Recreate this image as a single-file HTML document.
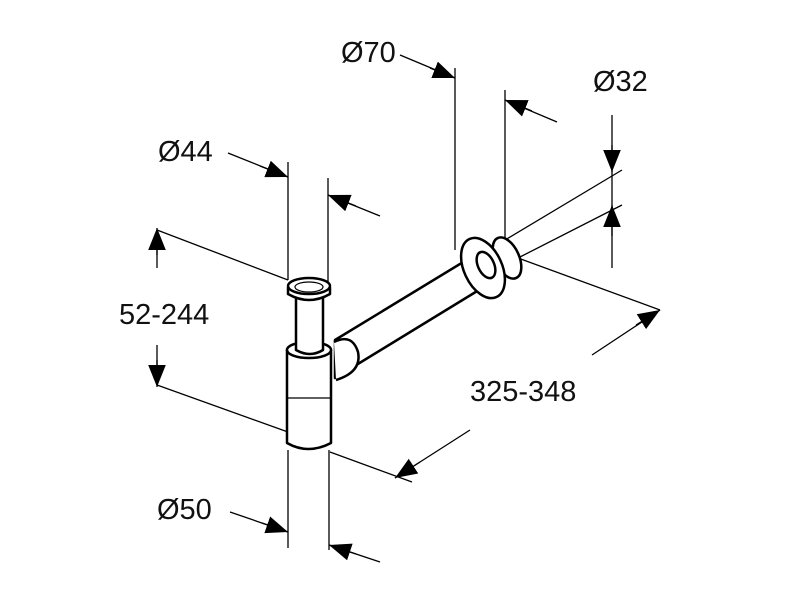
<!DOCTYPE html>
<html><head><style>body{margin:0;background:#fff}svg{display:block}text{font-family:"Liberation Sans",sans-serif;font-size:29px;fill:#111}</style></head>
<body>
<svg width="800" height="600" viewBox="0 0 800 600" xmlns="http://www.w3.org/2000/svg">
<defs>
<marker id="a" viewBox="0 0 10 10" refX="10" refY="5" markerWidth="22" markerHeight="22" markerUnits="userSpaceOnUse" orient="auto"><path d="M0,1 L10,5 L0,9Z" fill="#000"/></marker>
</defs>
<g stroke="#000" stroke-width="1.3" fill="none">
<line x1="288" y1="162" x2="288" y2="280"/>
<line x1="328" y1="178" x2="328" y2="285"/>
<line x1="288" y1="450" x2="288" y2="548"/>
<line x1="329" y1="450" x2="329" y2="550"/>
<line x1="455" y1="68" x2="455" y2="250"/>
<line x1="505" y1="90" x2="505" y2="242"/>
<line x1="505" y1="240" x2="622" y2="170"/>
<line x1="518" y1="258" x2="622" y2="205"/>
<line x1="518" y1="258" x2="660" y2="310"/>
<line x1="157" y1="230" x2="288" y2="280"/>
<line x1="157" y1="385" x2="288" y2="432"/>
<line x1="330" y1="452" x2="412" y2="482"/>
<line x1="228" y1="153" x2="288" y2="177"/>
<line x1="380" y1="216" x2="328" y2="195"/>
<line x1="400" y1="55" x2="455" y2="78"/>
<line x1="557" y1="122" x2="505" y2="100"/>
<line x1="612" y1="115" x2="612" y2="268"/>
<line x1="157" y1="230" x2="157" y2="268"/>
<line x1="157" y1="345" x2="157" y2="385"/>
<line x1="395" y1="478" x2="470" y2="430"/>
<line x1="592" y1="355" x2="660" y2="310"/>
<line x1="230" y1="512" x2="288" y2="532"/>
<line x1="380" y1="562" x2="329" y2="545"/>
</g>
<g stroke="#000" stroke-width="1.3" fill="none">
<line x1="260" y1="166" x2="288" y2="177" marker-end="url(#a)"/>
<line x1="356" y1="206" x2="328" y2="195" marker-end="url(#a)"/>
<line x1="430" y1="68" x2="455" y2="78" marker-end="url(#a)"/>
<line x1="532" y1="111" x2="505" y2="100" marker-end="url(#a)"/>
<line x1="612" y1="145" x2="612" y2="172" marker-end="url(#a)"/>
<line x1="612" y1="236" x2="612" y2="205" marker-end="url(#a)"/>
<line x1="157" y1="255" x2="157" y2="228" marker-end="url(#a)"/>
<line x1="157" y1="360" x2="157" y2="387" marker-end="url(#a)"/>
<line x1="420" y1="462" x2="395" y2="478" marker-end="url(#a)"/>
<line x1="636" y1="325" x2="660" y2="310" marker-end="url(#a)"/>
<line x1="262" y1="523" x2="288" y2="532" marker-end="url(#a)"/>
<line x1="356" y1="554" x2="329" y2="545" marker-end="url(#a)"/>
</g>
<g stroke="#000" stroke-width="2.5" fill="#fff" stroke-linejoin="round">
<path d="M335,340 L478,253 L492,282 L335,378 Z"/>
<ellipse cx="507" cy="258" rx="12" ry="22" transform="rotate(-25 507 258)"/>
<ellipse cx="483" cy="268" rx="19" ry="32" transform="rotate(-25 483 268)"/>
<ellipse cx="486" cy="265" rx="8" ry="14" transform="rotate(-25 486 265)"/>
<path d="M334,342 Q352,333 358,352 Q362,372 336,380" />
<path d="M287,350 L287,443 Q308,455 331,443 L331,350 Z"/>
<ellipse cx="309" cy="350" rx="22" ry="8"/>
<line x1="287" y1="398" x2="331" y2="398" stroke-width="1.2"/>
<path d="M296,292 L296,350 Q310,358 323,350 L323,292 Z"/>
<path d="M288,287 L288,294 Q309,306 330,294 L330,287"/>
<ellipse cx="309" cy="286" rx="21" ry="8"/>
<ellipse cx="309" cy="287" rx="14" ry="5" stroke-width="1.2"/>
</g>
<text x="341" y="62">Ø70</text>
<text x="593" y="91">Ø32</text>
<text x="158" y="161">Ø44</text>
<text x="119" y="324">52-244</text>
<text x="470" y="401">325-348</text>
<text x="157" y="519">Ø50</text>
</svg>
</body></html>
